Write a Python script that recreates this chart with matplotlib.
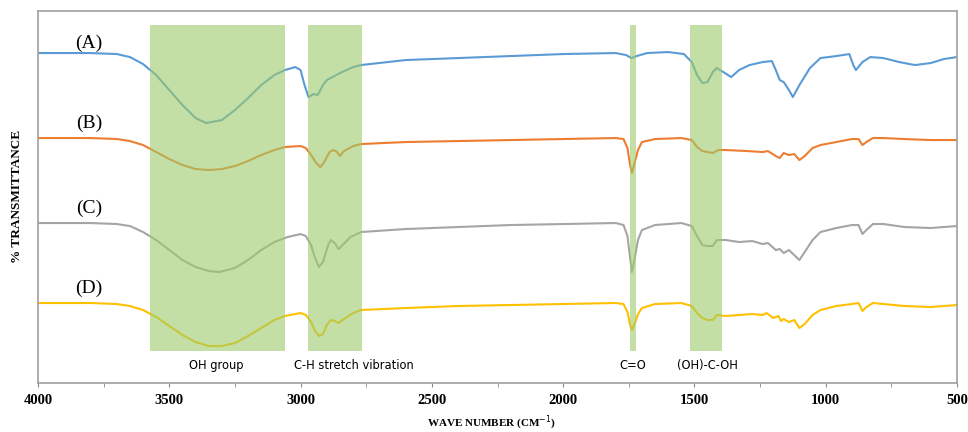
import matplotlib.pyplot as plt
from matplotlib.ticker import MultipleLocator

# FTIR spectra, offset transmittance (arbitrary units)
wn_a = [4000, 3800, 3700, 3650, 3600, 3550, 3500, 3450, 3400, 3360, 3300, 3250, 3200, 3150,
        3100, 3060, 3020, 3000, 2985, 2970, 2950, 2935, 2915, 2900, 2850, 2800, 2770, 2600,
        2400, 2200, 2000, 1800, 1760, 1740, 1720, 1680, 1600, 1540, 1510, 1490, 1470, 1450,
        1430, 1415, 1390, 1360, 1330, 1290, 1240, 1205, 1190, 1175, 1160, 1140, 1125, 1100,
        1060, 1020, 960, 910, 895, 885, 860, 830, 780, 720, 660, 600, 550, 500]
t_a = [347, 347, 346, 343, 336, 325, 310, 295, 282, 277, 280, 290, 302, 315,
       325, 330, 333, 330, 315, 303, 306, 305, 315, 320, 327, 333, 335, 340,
       342, 344, 346, 347, 345, 342, 344, 347, 348, 346, 338, 325, 317, 318,
       328, 332, 328, 323, 330, 335, 338, 339, 330, 320, 318, 310, 303, 315,
       332, 342, 344, 346, 335, 330, 338, 343, 342, 338, 335, 337, 341, 343]

wn_b = [4000, 3800, 3700, 3650, 3600, 3550, 3500, 3450, 3400, 3350, 3300, 3250, 3200, 3150,
        3100, 3060, 3000, 2980, 2960, 2940, 2925, 2910, 2890, 2875, 2860, 2850, 2835, 2800,
        2770, 2600, 2400, 2200, 2000, 1800, 1770, 1755, 1745, 1738, 1730, 1715, 1700, 1650,
        1550, 1510, 1490, 1470, 1450, 1430, 1410, 1380, 1300, 1240, 1220, 1190, 1175, 1160,
        1140, 1120, 1100, 1080, 1050, 1020, 960, 900, 875, 860, 845, 820, 780, 700, 600, 500]
t_b = [262, 262, 261, 259, 255, 248, 241, 235, 231, 230, 231, 234, 239, 245,
       250, 253, 254, 252, 245, 237, 233, 238, 248, 250, 248, 244, 249, 254,
       256, 258, 259, 260, 261, 262, 261, 252, 235, 227, 235, 250, 258, 261,
       262, 260, 253, 249, 248, 247, 250, 250, 249, 248, 249, 244, 242, 247,
       245, 246, 240, 244, 252, 255, 258, 261, 261, 255, 258, 262, 262, 261, 260, 260]

wn_c = [4000, 3800, 3700, 3650, 3600, 3550, 3500, 3450, 3400, 3350, 3310, 3250, 3200, 3150,
        3100, 3050, 3000, 2980, 2960, 2945, 2930, 2915, 2895, 2885, 2870, 2855, 2840, 2810,
        2770, 2600, 2400, 2200, 2000, 1800, 1770, 1755, 1745, 1738, 1730, 1715, 1700, 1650,
        1550, 1510, 1490, 1470, 1450, 1430, 1415, 1380, 1330, 1280, 1240, 1220, 1190, 1175,
        1160, 1140, 1120, 1100, 1080, 1050, 1020, 960, 900, 875, 860, 845, 820, 780, 700, 600, 500]
t_c = [177, 177, 176, 174, 168, 160, 150, 140, 133, 129, 128, 132, 140, 150,
       158, 163, 166, 164, 155, 142, 133, 138, 155, 160, 157, 151, 155, 163,
       168, 171, 173, 175, 176, 177, 175, 164, 142, 128, 138, 160, 170, 175,
       177, 174, 164, 155, 154, 154, 160, 160, 158, 159, 156, 157, 150, 151,
       147, 150, 145, 140, 148, 160, 168, 172, 175, 175, 166, 170, 176, 176, 173, 172, 174]

wn_d = [4000, 3800, 3700, 3650, 3600, 3550, 3500, 3450, 3400, 3350, 3300, 3250, 3200, 3150,
        3100, 3060, 3000, 2980, 2960, 2945, 2930, 2915, 2900, 2885, 2870, 2855, 2840, 2800,
        2770, 2600, 2400, 2200, 2000, 1800, 1770, 1755, 1745, 1738, 1732, 1725, 1715, 1700,
        1650, 1550, 1510, 1490, 1470, 1450, 1430, 1415, 1380, 1330, 1280, 1240, 1225, 1200,
        1180, 1170, 1160, 1140, 1120, 1100, 1080, 1050, 1020, 960, 900, 875, 860, 845, 820,
        780, 700, 600, 500]
t_d = [97, 97, 96, 94, 90, 83, 74, 65, 58, 54, 54, 57, 64, 72,
       80, 84, 87, 85, 78, 69, 64, 66, 75, 80, 79, 77, 80, 87,
       90, 92, 94, 95, 96, 97, 96, 88, 75, 70, 74, 78, 86, 92,
       96, 97, 94, 87, 82, 80, 80, 85, 84, 85, 86, 85, 87, 82,
       84, 79, 81, 78, 80, 72, 76, 85, 90, 94, 96, 97, 89, 93, 97,
       96, 94, 93, 95]

series_labels = ['(A)', '(B)', '(C)', '(D)']
band_lo = [3575, 2970, 1745, 1518]
band_hi = [3060, 2765, 1724, 1395]
band_labels = ['OH group', 'C-H stretch vibration', 'C=O', '(OH)-C-OH']
band_label_x = [3320, 2797, 1735, 1449]

colors = ['#5b9bd5', '#ed7d31', '#a5a5a5', '#ffc000']

fig = plt.figure(figsize=(9.68, 4.32), dpi=100)
ax = fig.add_axes([0.0393, 0.1134, 0.9493, 0.861])

for wn, t, c in zip([wn_a, wn_b, wn_c, wn_d], [t_a, t_b, t_c, t_d], colors):
    ax.plot(wn, t, color=c, lw=1.5, zorder=2)

for lo, hi in zip(band_lo, band_hi):
    ax.axvspan(hi, lo, ymin=0.086, ymax=0.962, color='#9ecb69', alpha=0.6, lw=0, zorder=3)

label_y = [357, 277, 192, 112]
for lab, y in zip(series_labels, label_y):
    ax.text(3805, y, lab, family='Liberation Serif', fontsize=14, ha='center', va='center')

for lab, x in zip(band_labels, band_label_x):
    ax.text(x, 35, lab, family='DejaVu Sans', fontsize=8.3, ha='center', va='center')

ax.set_xlim(4000, 500)
ax.set_ylim(17, 389)
ax.xaxis.set_major_locator(MultipleLocator(500))
ax.xaxis.set_minor_locator(MultipleLocator(250))
ax.set_yticks([])
ax.tick_params(axis='x', which='both', direction='out', length=3, color='#888888', pad=5)
for lbl in ax.get_xticklabels():
    lbl.set_family('Liberation Serif')
    lbl.set_fontweight('bold')
    lbl.set_fontsize(10.5)
for s in ax.spines.values():
    s.set_color('#a0a0a0')
    s.set_linewidth(1.2)

ax.set_xlabel('WAVE NUMBER (CM$^{-1}$)', family='Liberation Serif', fontweight='bold',
              fontsize=8)
ax.xaxis.set_label_coords(0.493, -0.082)
fig.text(0.0176, 0.545, '% TRANSMITTANCE', family='Liberation Serif', fontweight='bold',
         fontsize=9.5, rotation=90, ha='center', va='center')

fig.savefig('out.png', dpi=100)
